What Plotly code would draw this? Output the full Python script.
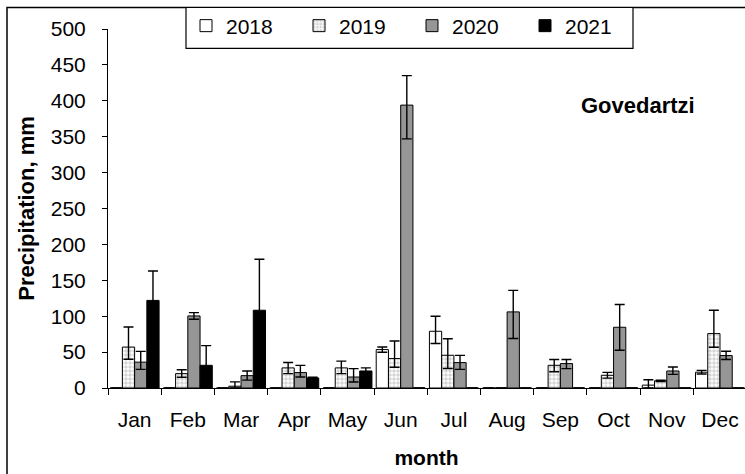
import plotly.graph_objects as go

months = ["Jan", "Feb", "Mar", "Apr", "May", "Jun", "Jul", "Aug", "Sep", "Oct", "Nov", "Dec"]

p2018 = [0, 0, 0, 0, 0, 53.5, 79, 0, 0, 0, 4, 22]
e2018_up = [None, None, None, None, None, 3.7, 21, None, None, None, 7.5, 2.5]
e2018_dn = [None, None, None, None, None, 3.7, 17, None, None, None, 4, 2.5]

p2019 = [57, 20, 2.5, 28, 28, 41, 45.6, 0, 31.6, 17.7, 10, 75.8]
e2019_up = [28, 5.5, 6, 7.5, 9.5, 24.5, 23, None, 8, 4, 1, 32.5]
e2019_dn = [17, 5, 2.5, 8, 8, 12, 18.5, None, 9, 4, 1, 19]

p2020 = [36, 100.4, 17.2, 21.5, 15.3, 394, 35.4, 106, 34, 84.6, 23.7, 45.2]
e2020_up = [15, 4.6, 6.5, 10, 11.7, 41, 10, 30, 5.6, 31.6, 5.6, 6]
e2020_dn = [10, 4.6, 6.2, 6.2, 7, 47, 9.4, 37, 7, 32, 4.7, 5.6]

p2021 = [122, 31.6, 108.3, 14, 23.7, 0, 0, 0, 0, 0, 0, 0]
e2021 = [41, 27.4, 71, 1, 4.3, None, None, None, None, None, None, None]

FONT = "Liberation Sans, Arial, sans-serif"
W, H = 745, 474
ML, MR, MT, MB = 108, 0, 29, 86
PW, PH = W - ML - MR, H - MT - MB


def px_x(p):
    return (p - ML) / PW


def px_y(p):
    return (H - MB - p) / PH


def err(up, dn):
    return dict(type="data", symmetric=False, array=up, arrayminus=dn,
                color="black", thickness=1.4, width=5)


fig = go.Figure()
fig.add_bar(name="2018", x=months, y=p2018,
            marker=dict(color="white", line=dict(color="black", width=1)),
            error_y=err(e2018_up, e2018_dn))
fig.add_bar(name="2019", x=months, y=p2019,
            marker=dict(color="white", line=dict(color="black", width=1),
                        pattern=dict(shape=".", fgcolor="#a8a8a8", bgcolor="white",
                                     size=4, solidity=0.6)),
            error_y=err(e2019_up, e2019_dn))
fig.add_bar(name="2020", x=months, y=p2020,
            marker=dict(color="#969696", line=dict(color="black", width=1)),
            error_y=err(e2020_up, e2020_dn))
fig.add_bar(name="2021", x=months, y=p2021,
            marker=dict(color="black", line=dict(color="black", width=1)),
            error_y=err(e2021, e2021))

fig.update_layout(
    width=W, height=H,
    margin=dict(l=ML, r=MR, t=MT, b=MB, pad=0, autoexpand=False),
    paper_bgcolor="white", plot_bgcolor="white",
    font=dict(family=FONT, size=20, color="black"),
    barmode="group", bargap=0.08, bargroupgap=0,
    showlegend=True,
    legend=dict(orientation="h", x=px_x(186), y=px_y(5.5), xanchor="left", yanchor="top",
                borderwidth=0, bgcolor="rgba(0,0,0,0)",
                font=dict(size=21, family=FONT), entrywidth=68, entrywidthmode="pixels",
                traceorder="normal"),
    xaxis=dict(type="category", range=[-0.5, 11.47], tickson="boundaries",
               ticks="outside", ticklen=6, tickcolor="black", showline=True,
               linecolor="black", linewidth=1, showgrid=False, zeroline=False,
               tickfont=dict(size=21), ticklabelstandoff=13,
               title=dict(text="<b>month</b>", font=dict(size=21), standoff=20)),
    yaxis=dict(range=[0, 500], dtick=50, tick0=0, ticks="outside", ticklen=5,
               tickcolor="black", showline=True, linecolor="black", linewidth=1,
               showgrid=False, zeroline=False, tickfont=dict(size=21),
               ticklabelstandoff=12,
               title=dict(text="<b>Precipitation, mm</b>", font=dict(size=22), standoff=10)),
    annotations=[dict(text="<b>Govedartzi</b>", x=px_x(638), y=px_y(105.5),
                      xref="paper", yref="paper", xanchor="center", yanchor="middle",
                      showarrow=False, font=dict(size=22, family=FONT))],
    shapes=[
        dict(type="rect", xref="paper", yref="paper",
             x0=px_x(7), x1=px_x(760), y0=px_y(490), y1=px_y(7.5),
             line=dict(color="black", width=1.5), fillcolor="rgba(0,0,0,0)",
             layer="below"),
        dict(type="rect", xref="paper", yref="paper",
             x0=px_x(186), x1=px_x(633), y0=px_y(48.3), y1=px_y(7.5),
             line=dict(color="black", width=1.2), fillcolor="white",
             layer="below"),
    ],
)

fig.write_html("out.html", config={"displayModeBar": False},
               post_script="document.body.style.margin='0';")
